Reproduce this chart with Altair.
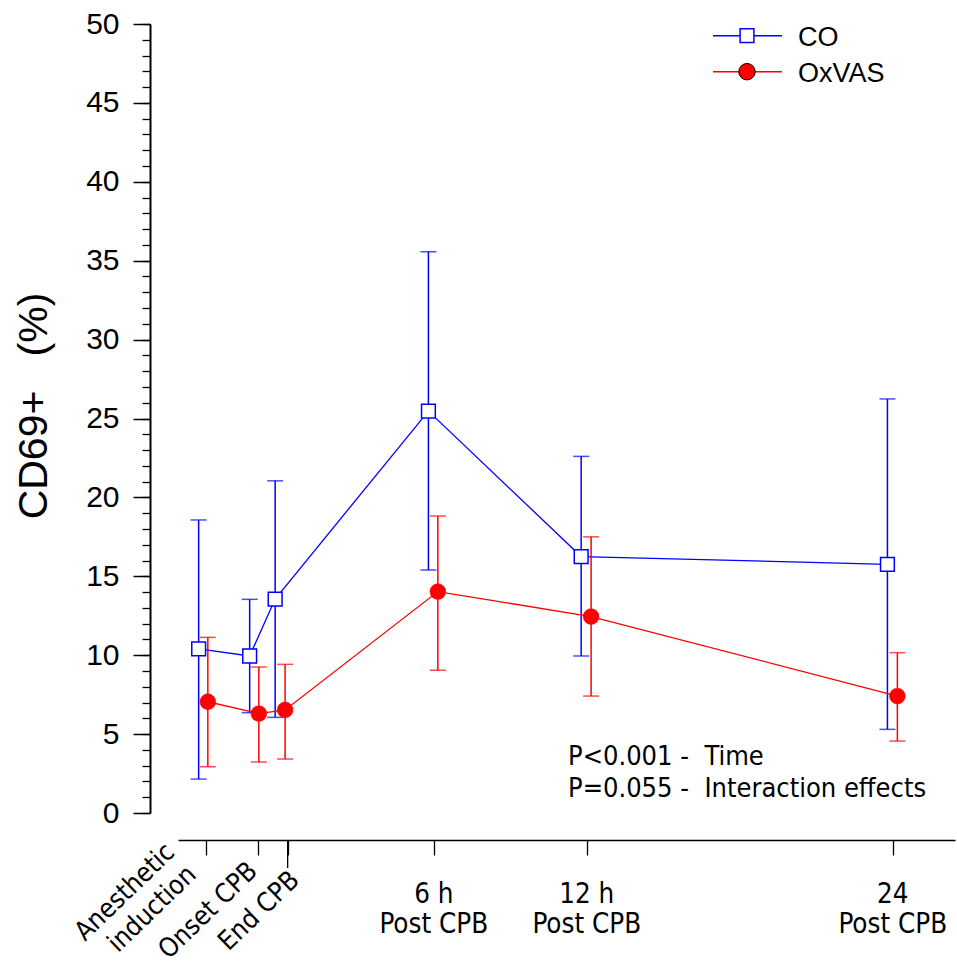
import altair as alt
import pandas as pd

# ---------------- data ----------------
series_names = ["CO", "OxVAS"]
# x positions in hours relative to end of CPB (series slightly offset around each time point)
co_x = [-3.22, -1.22, -0.22, 5.79, 11.78, 23.79]
co_mean = [10.4, 9.95, 13.56, 25.47, 16.25, 15.76]
co_lo = [2.15, 6.36, 6.06, 15.4, 9.95, 5.3]
co_hi = [18.57, 13.54, 21.05, 35.57, 22.6, 26.24]

ox_x = [-2.86, -0.86, 0.17, 6.16, 12.17, 24.18]
ox_mean = [7.05, 6.3, 6.53, 14.03, 12.45, 7.41]
ox_lo = [2.93, 3.23, 3.42, 9.04, 7.41, 4.56]
ox_hi = [11.13, 9.25, 9.42, 18.82, 17.5, 10.16]

tick_hours = [-2.93, -0.90, 0.27, 6, 12, 24]
tick_line1 = ["", "", "", "6 h", "12 h", "24"]
tick_line2 = ["", "", "", "Post CPB", "Post CPB", "Post CPB"]
rot_labels = ["Anesthetic\ninduction", "Onset CPB", "End CPB"]
y_major = list(range(0, 51, 5))
y_minor = list(range(0, 51))
annotation = "P<0.001 -\u00a0 Time\nP=0.055 -\u00a0 Interaction effects"
y_title = "CD69+\u00a0\u00a0\u00a0(%)"

X_DOMAIN = [-4.03, 26.44]
W, H = 777, 789

BLUE = "#0000FF"
RED = "#FF0000"
ARIAL = "Liberation Sans"
TAHOMA = "DejaVu Sans Condensed"

co = pd.DataFrame({"x": co_x, "mean": co_mean, "lo": co_lo, "hi": co_hi})
ox = pd.DataFrame({"x": ox_x, "mean": ox_mean, "lo": ox_lo, "hi": ox_hi})
ticks = pd.DataFrame({"x": tick_hours, "l1": tick_line1, "l2": tick_line2})

xscale = alt.Scale(domain=X_DOMAIN, nice=False, zero=False)
yscale = alt.Scale(domain=[0, 50], nice=False, zero=True)

x_axis = alt.Axis(values=tick_hours, labels=False, tickSize=15, tickWidth=1.3,
                  tickColor="black", domainColor="black", domainWidth=1.5,
                  offset=27, grid=False, title=None)
y_major_axis = alt.Axis(values=y_major, tickSize=17, tickWidth=1.5, tickColor="black",
                        domainColor="black", domainWidth=2, labelFont=ARIAL,
                        labelFontSize=30, labelColor="black", labelPadding=14,
                        offset=28, grid=False, title=None, orient="left")
y_minor_axis = alt.Axis(values=y_minor, tickSize=8, tickWidth=1.3, tickColor="black",
                        domain=False, labels=False, offset=28, grid=False,
                        title=None, orient="left")

X = lambda f="x": alt.X(f"{f}:Q", scale=xscale, axis=x_axis)


def series_layers(df, color, point_mark, axis_main=None, axis_minor=None):
    line = alt.Chart(df).mark_line(color=color, strokeWidth=1.3).encode(
        x=X(), y=alt.Y("mean:Q", scale=yscale, axis=axis_main))
    bars = alt.Chart(df).mark_rule(color=color, strokeWidth=1.5).encode(
        x=X(), y=alt.Y("lo:Q", scale=yscale, axis=axis_minor), y2="hi:Q")
    cap_lo = alt.Chart(df).mark_tick(color=color, orient="horizontal", size=16,
                                     thickness=1.5).encode(
        x=X(), y=alt.Y("lo:Q", scale=yscale, axis=None))
    cap_hi = alt.Chart(df).mark_tick(color=color, orient="horizontal", size=16,
                                     thickness=1.5).encode(
        x=X(), y=alt.Y("hi:Q", scale=yscale, axis=None))
    pts = alt.Chart(df).mark_point(**point_mark).encode(
        x=X(), y=alt.Y("mean:Q", scale=yscale, axis=None))
    return [line, bars, cap_lo, cap_hi, pts]


co_layers = series_layers(co, BLUE,
                          dict(shape="square", filled=True, fill="white", stroke=BLUE,
                               strokeWidth=1.5, size=190, opacity=1),
                          axis_main=y_major_axis, axis_minor=y_minor_axis)
ox_layers = series_layers(ox, RED,
                          dict(shape="circle", filled=True, fill=RED, stroke=RED,
                               strokeWidth=0.5, size=250, opacity=1),
                          axis_main=None, axis_minor=None)

# x-axis labels (horizontal, two lines)
lab1 = alt.Chart(ticks).mark_text(font=TAHOMA, fontSize=27.5, color="black",
                                  align="center", baseline="alphabetic").encode(
    x=X(), y=alt.value(879), text="l1:N")
lab2 = alt.Chart(ticks).mark_text(font=TAHOMA, fontSize=27.5, color="black",
                                  align="center", baseline="alphabetic").encode(
    x=X(), y=alt.value(909), text="l2:N")

# rotated labels
rot_specs = [(0, 830, -30), (1, 849, 1), (2, 858, 13)]
rot_layers = []
for i, yv, xo in rot_specs:
    d = pd.DataFrame({"x": [tick_hours[i]], "t": [rot_labels[i]]})
    rot_layers.append(
        alt.Chart(d).mark_text(font=TAHOMA, fontSize=26.5, color="black", angle=316,
                               align="right", baseline="alphabetic", lineBreak="\n",
                               lineHeight=31).encode(
            x=X(), xOffset=alt.value(xo), y=alt.value(yv), text="t:N"))

# End CPB longer tick
end_tick = alt.Chart(pd.DataFrame({"x": [tick_hours[2]]})).mark_rule(
    color="black", strokeWidth=1.3).encode(
    x=X(), y=alt.value(H + 27), y2=alt.value(H + 55))

# annotation
ann = alt.Chart(pd.DataFrame({"t": [annotation]})).mark_text(
    font=TAHOMA, fontSize=27, color="black", align="left", baseline="alphabetic",
    lineBreak="\n", lineHeight=32).encode(
    x=alt.value(390), y=alt.value(741), text="t:N")

# y title
ytitle = alt.Chart(pd.DataFrame({"t": [y_title]})).mark_text(
    font=ARIAL, fontSize=41, color="black", angle=270, align="center",
    baseline="middle").encode(x=alt.value(-143), y=alt.value(382), text="t:N")

# legend
leg_df = pd.DataFrame({"s": series_names})
legend = []
for k, (name, color) in enumerate([("CO", BLUE), ("OxVAS", RED)]):
    yy = 11.7 + 36 * k
    one = leg_df[leg_df.s == name]
    legend.append(alt.Chart(one).mark_rule(color=color, strokeWidth=1.5).encode(
        x=alt.value(535), x2=alt.value(604), y=alt.value(yy)))
    if name == "CO":
        pm = dict(shape="square", filled=True, fill="white", stroke=BLUE,
                  strokeWidth=1.5, size=190, opacity=1)
    else:
        pm = dict(shape="circle", filled=True, fill=RED, stroke="black",
                  strokeWidth=1, size=270, opacity=1)
    legend.append(alt.Chart(one).mark_point(**pm).encode(
        x=alt.value(569), y=alt.value(yy)))
    legend.append(alt.Chart(one).mark_text(font=ARIAL, fontSize=27, color="black",
                                           align="left", baseline="middle").encode(
        x=alt.value(620), y=alt.value(yy + 2), text="s:N"))

chart = alt.layer(
    *co_layers, *ox_layers, lab1, lab2, *rot_layers, end_tick, ann, ytitle, *legend
).resolve_scale(y="shared", x="shared").resolve_axis(y="independent").properties(
    width=W, height=H,
    autosize=alt.AutoSizeParams(type="none"),
    padding={"left": 178, "top": 24, "right": 2, "bottom": 150},
    background="white",
).configure_view(strokeWidth=0, stroke="transparent")

chart.save("out.html", embed_options={"renderer": "svg", "actions": False})
